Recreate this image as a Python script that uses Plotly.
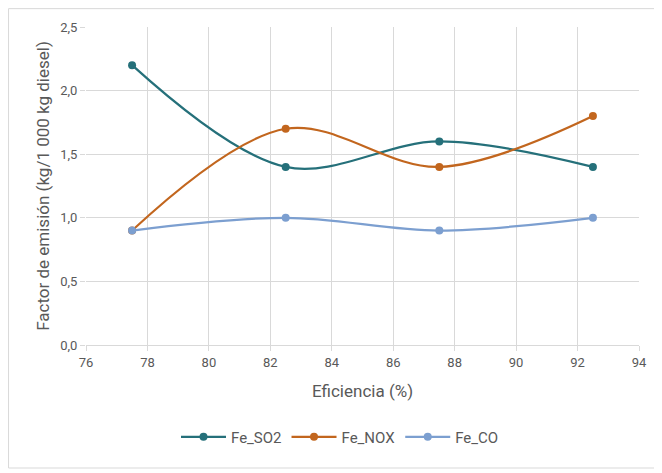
import plotly.graph_objects as go

eficiencia = [77.5, 82.5, 87.5, 92.5]
fe_so2 = [2.2, 1.4, 1.6, 1.4]
fe_nox = [0.9, 1.7, 1.4, 1.8]
fe_co = [0.9, 1.0, 0.9, 1.0]

series = [("Fe_SO2", fe_so2, "#25707A"), ("Fe_NOX", fe_nox, "#C2661E"), ("Fe_CO", fe_co, "#7C9FD0")]

# page is offset by 8px body margin
OFF = 8
W, H = 662 - OFF, 473 - OFF
L, T = 86 - OFF, 27 - OFF
R = W - (639 - OFF)
B = H - (345 - OFF)
pw, ph = W - L - R, H - T - B

fig = go.Figure()
for name, vals, col in series:
    fig.add_trace(go.Scatter(x=eficiencia, y=vals, name=name, mode="lines+markers",
                             line=dict(color=col, width=2.25, shape="spline", smoothing=1.0),
                             marker=dict(color=col, size=8)))

fig.update_layout(
    width=W, height=H, margin=dict(l=L, r=R, t=T, b=B),
    paper_bgcolor="white", plot_bgcolor="white",
    font=dict(family="Roboto", color="#595959"),
    xaxis=dict(range=[76, 94], dtick=2, showgrid=True, gridcolor="#D9D9D9", gridwidth=1,
               zeroline=False, showline=True, linecolor="#D9D9D9", ticks="outside",
               ticklen=5, tickcolor="#D9D9D9", tickfont=dict(size=13, color="#595959"),
               title=dict(text="Eficiencia (%)", font=dict(size=17, color="#595959"), standoff=16)),
    yaxis=dict(range=[0, 2.5], dtick=0.5, tickformat=".1f", showgrid=True, gridcolor="#D9D9D9",
               zeroline=False, showline=False, ticks="outside", ticklen=5, tickcolor="#D9D9D9",
               tickfont=dict(size=13, color="#595959"),
               title=dict(text="Factor de emisión (kg/1 000 kg diesel)", font=dict(size=17, color="#595959"), standoff=6)),
    separators=",.",
    legend=dict(orientation="h", x=(340 - 86) / pw, xanchor="center", y=-(437 - 345) / ph, yanchor="middle",
                font=dict(size=15, color="#595959"), itemwidth=45),
    showlegend=True,
)
fig.add_shape(type="rect", xref="paper", yref="paper",
              x0=-L / pw + 0.001, x1=(657 - OFF - L) / pw, y0=-(468 - 345) / ph, y1=(345 - OFF) / ph - 0.002,
              line=dict(color="#D9D9D9", width=1), fillcolor="rgba(0,0,0,0)", layer="below")
fig.write_html("out.html")
